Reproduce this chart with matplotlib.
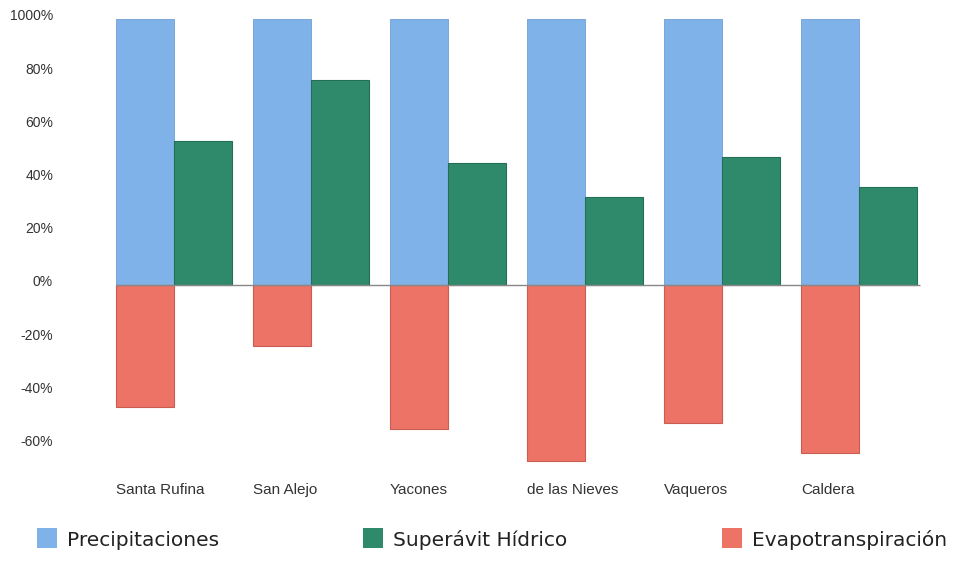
import matplotlib
matplotlib.use("Agg")
import matplotlib.pyplot as plt
from matplotlib.patches import Rectangle
from matplotlib.transforms import ScaledTranslation
import numpy as np

categories = ["Santa Rufina", "San Alejo", "Yacones", "de las Nieves", "Vaqueros", "Caldera"]
precipitaciones = [100, 100, 100, 100, 100, 100]
superavit = [54, 77, 46, 33, 48, 37]
evapotranspiracion = [-46, -23, -54, -66, -52, -63]
series_names = ["Precipitaciones", "Superávit Hídrico", "Evapotranspiración"]
ytick_vals = [100, 80, 60, 40, 20, 0, -20, -40, -60]
ytick_labels = ["1000%", "80%", "60%", "40%", "20%", "0%", "-20%", "-40%", "-60%"]

c_blue = "#7fb2e8"
c_green = "#2f8a6c"
c_red = "#ec7366"

plt.rcParams['font.family'] = ['Liberation Sans', 'DejaVu Sans']

W, H = 962, 562
fig = plt.figure(figsize=(W/100, H/100), dpi=100)
ax = fig.add_axes([60/W, 1-475/H, 880/W, 465/H])

x = np.arange(len(categories))
w = 58/137
ax.bar(x - w/2, precipitaciones, width=w, color=c_blue, edgecolor="#6f9fd3", linewidth=0.6, zorder=2)
ax.bar(x + w/2, superavit, width=w, color=c_green, edgecolor="#256e56", linewidth=0.8, zorder=2)
ax.bar(x - w/2, evapotranspiracion, width=w, color=c_red, edgecolor="#c85d52", linewidth=0.8, zorder=2)
ax.hlines(0, -w, len(categories) - 1 + w + 0.02, color="#888888", linewidth=1.0, zorder=3)

s = 2.66
ax.set_xlim((60-174)/137, (940-174)/137)
ax.set_ylim((285-475)/s, (285-10)/s)

for sp in ax.spines.values():
    sp.set_visible(False)
ax.set_yticks(ytick_vals)
ax.set_yticklabels(ytick_labels, fontsize=10, color="#333333")
ax.tick_params(axis='y', length=0, pad=5)
off = ScaledTranslation(0, 4/100, fig.dpi_scale_trans)
for lbl in ax.get_yticklabels():
    lbl.set_transform(lbl.get_transform() + off)
ax.set_xticks(x - w)
ax.set_xticklabels(categories, fontsize=11, color="#333333", ha='left')
ax.tick_params(axis='x', length=0, pad=6)

leg = [(37, c_blue, series_names[0]), (363, c_green, series_names[1]), (722, c_red, series_names[2])]
for px, col, name in leg:
    fig.patches.append(Rectangle((px/W, 1-548/H), 20/W, 20/H, transform=fig.transFigure,
                                 facecolor=col, edgecolor='none'))
    fig.text((px+30)/W, 1-540/H, name, fontsize=14.5, color="#222222", va='center', ha='left',
             family=['DejaVu Sans'])

fig.savefig("out.png", dpi=100, facecolor="white")
